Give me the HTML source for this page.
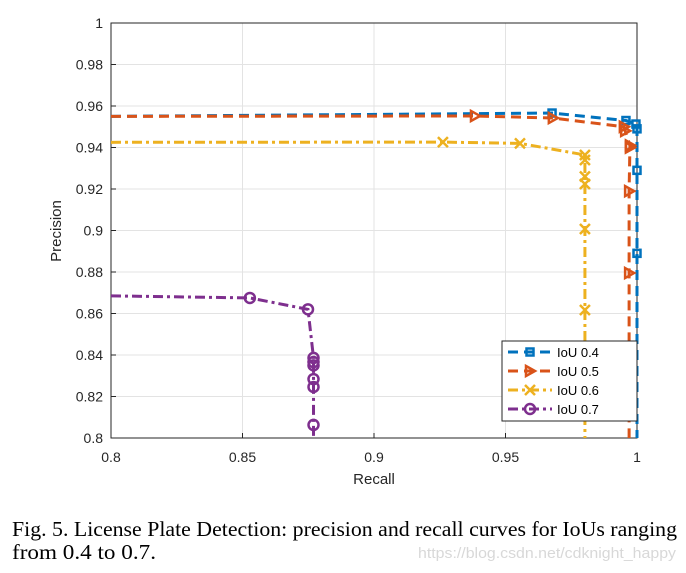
<!DOCTYPE html>
<html><head><meta charset="utf-8"><style>
body{margin:0;background:#fff;width:686px;height:573px;overflow:hidden}
svg{display:block}
</style></head><body>
<svg id="chart" width="686" height="573" xmlns="http://www.w3.org/2000/svg" font-family="Liberation Sans, sans-serif"></svg>
<script>
const xTicks=[0.8,0.85,0.9,0.95,1];
const yTicks=[0.8,0.82,0.84,0.86,0.88,0.9,0.92,0.94,0.96,0.98,1];
const seriesNames=["IoU 0.4","IoU 0.5","IoU 0.6","IoU 0.7"];
const r04=[0.8,0.9677,0.9958,0.9996,1.0,1.0,1.0,1.0];
const p04=[0.955,0.9566,0.953,0.9513,0.949,0.929,0.889,0.8];
const r05=[0.8,0.9384,0.968,0.995,0.9955,0.9973,0.9973,0.997,0.997,0.997];
const p05=[0.955,0.9552,0.9542,0.950,0.948,0.941,0.940,0.919,0.8795,0.8];
const r06=[0.8,0.9262,0.9555,0.9802,0.9802,0.9802,0.9802,0.9802,0.9802,0.9802];
const p06=[0.9425,0.9426,0.942,0.9364,0.934,0.926,0.9224,0.9007,0.8617,0.8];
const r07=[0.8,0.8528,0.8749,0.877,0.877,0.877,0.877,0.877,0.877,0.877];
const p07=[0.8685,0.8675,0.862,0.8386,0.8366,0.835,0.8284,0.8246,0.8063,0.8];
const colors=["#0072BD","#D95319","#EDB120","#7E2F8E"];
const X0=111,X1=637,Y0=438,Y1=23;
const sx=v=>X0+(v-0.8)/0.2*(X1-X0);
const sy=v=>Y0-(v-0.8)/0.2*(Y0-Y1);
const svg=document.getElementById('chart');
const NS="http://www.w3.org/2000/svg";
function mk(t,a,p){const e=document.createElementNS(NS,t);for(const k in a)e.setAttribute(k,a[k]);(p||svg).appendChild(e);return e;}
let bg=mk('rect',{x:X0,y:Y1,width:X1-X0,height:Y0-Y1,fill:'#fff'});


xTicks.forEach(v=>{
 let g=mk('line',{x1:sx(v),x2:sx(v),y1:Y1,y2:Y0,stroke:'#e3e3e3','stroke-width':1});
 
 
 let t=mk('text',{x:sx(v),y:462,'text-anchor':'middle','font-size':14,fill:'#262626'});t.textContent=String(v);
 
 
 mk('line',{x1:sx(v),x2:sx(v),y1:Y0,y2:Y0-5,stroke:'#262626'});
});
yTicks.forEach(v=>{
 let g=mk('line',{x1:X0,x2:X1,y1:sy(v),y2:sy(v),stroke:'#e3e3e3','stroke-width':1});
 
 
 let t=mk('text',{x:103,y:sy(v)+5,'text-anchor':'end','font-size':14,fill:'#262626'});t.textContent=String(v);
 
 
 mk('line',{x1:X0,x2:X0+5,y1:sy(v),y2:sy(v),stroke:'#262626'});
});
let ax=mk('rect',{x:X0,y:Y1,width:X1-X0,height:Y0-Y1,fill:'none',stroke:'#262626','stroke-width':1});


const dashes=["10 6","10 6","10 4 3 4","10 4 3 4"];
function marker(kind,x,y,c,p){
 if(kind==0)return mk('rect',{x:x-3.5,y:y-3.5,width:7,height:7,fill:'none',stroke:c,'stroke-width':2.5},p);
 if(kind==1)return mk('polygon',{points:`${x-4},${y-5} ${x+5},${y} ${x-4},${y+5}`,fill:'none',stroke:c,'stroke-width':2.5},p);
 if(kind==2){let g=mk('path',{d:`M${x-5},${y-5}L${x+5},${y+5}M${x-5},${y+5}L${x+5},${y-5}`,stroke:c,'stroke-width':2.5},p);return g;}
 return mk('circle',{cx:x,cy:y,r:5,fill:'none',stroke:c,'stroke-width':2.5},p);
}
const data=[[r04,p04],[r05,p05],[r06,p06],[r07,p07]];
data.forEach((d,i)=>{
 const [rs,ps]=d;
 let pts=rs.map((r,j)=>sx(r)+','+sy(ps[j])).join(' ');
 let l=mk('polyline',{points:pts,fill:'none',stroke:colors[i],'stroke-width':3,'stroke-dasharray':dashes[i]});
 
 
 for(let j=1;j<rs.length-1;j++){
  let m=marker(i,sx(rs[j]),sy(ps[j]),colors[i]);
  
  
 }
});
let lg=mk('g',{});


mk('rect',{x:502,y:341,width:135,height:80,fill:'#fff',stroke:'#262626','stroke-width':1},lg);
seriesNames.forEach((n,i)=>{
 const y=352+i*19;
 let e=mk('line',{x1:508,x2:552,y1:y,y2:y,stroke:colors[i],'stroke-width':3,'stroke-dasharray':dashes[i]},lg);
 
 
 marker(i,530,y,colors[i],lg);
 let t=mk('text',{x:557,y:y+5,'font-size':13,fill:'#000'},lg);t.textContent=n;
 
 
});
let xl=mk('text',{x:374,y:484,'text-anchor':'middle','font-size':15,fill:'#262626'});xl.textContent='Recall';


let yl=mk('text',{x:0,y:0,'text-anchor':'middle','font-size':15,fill:'#262626',transform:'translate(61,231) rotate(-90)'});yl.textContent='Precision';


let c1=mk('text',{x:12,y:536,'font-size':21,'font-family':'Liberation Serif, serif',fill:'#000',textLength:665,lengthAdjust:'spacingAndGlyphs'});c1.textContent='Fig. 5.  License Plate Detection: precision and recall curves for IoUs ranging';


let c2=mk('text',{x:12,y:559,'font-size':21,'font-family':'Liberation Serif, serif',fill:'#000',textLength:144,lengthAdjust:'spacingAndGlyphs'});c2.textContent='from 0.4 to 0.7.';


let wm=mk('text',{x:676,y:558,'text-anchor':'end','font-size':15,fill:'#d8d8d8',textLength:258,lengthAdjust:'spacingAndGlyphs'});wm.textContent='https://blog.csdn.net/cdknight_happy';


</script>
</body></html>
